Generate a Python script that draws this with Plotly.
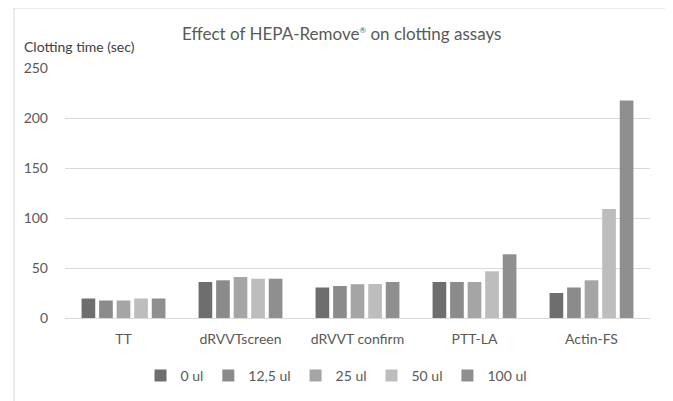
import plotly.graph_objects as go

categories = ["TT", "dRVVTscreen", "dRVVT confirm", "PTT-LA", "Actin-FS"]
series_names = ["0 ul", "12,5 ul", "25 ul", "50 ul", "100 ul"]
v_0 = [19.5, 36, 30.5, 36, 25]
v_12 = [17.5, 37.7, 32, 36, 30.5]
v_25 = [17.5, 41, 33.8, 36, 37.7]
v_50 = [19.5, 39.3, 34, 46.7, 109]
v_100 = [19.5, 39.3, 36, 63.7, 217.5]
values = [v_0, v_12, v_25, v_50, v_100]
colors = ["#6e6e6e", "#8b8b8b", "#a5a5a5", "#bdbdbd", "#8f8f8f"]
tick_vals = [0, 50, 100, 150, 200, 250]

FONT = "Lato"
GREY = "#595959"

fig = go.Figure()
for name, vals, c in zip(series_names, values, colors):
    fig.add_trace(go.Bar(x=categories, y=vals, name=name, marker=dict(color=c, line=dict(width=0))))

# The page body has an 8px margin, so the figure is drawn 8px in from the top-left.
OFF = 8
SW, SH = 673, 401
W, H = SW - OFF, SH - OFF
L, R, T, B = 65 - OFF, 23, 68 - OFF, 83
pw = W - L - R
ph = H - T - B

def px_x(x):  # screen x -> paper
    return (x - OFF - L) / pw

def px_y(y):  # screen y -> paper
    return (H - B - (y - OFF)) / ph

fig.update_layout(
    width=W, height=H,
    margin=dict(l=L, r=R, t=T, b=B, autoexpand=False),
    paper_bgcolor="white", plot_bgcolor="white",
    barmode="group", bargap=0.25, bargroupgap=0.22,
    font=dict(family=FONT, color=GREY, size=13),
    showlegend=True,
    legend=dict(orientation="h", xref="container", yref="container",
                x=(336 - OFF) / W, xanchor="center", y=1 - (376 - OFF) / H, yanchor="middle",
                font=dict(size=14, color=GREY), traceorder="normal", itemwidth=30,
                tracegroupgap=0),
    xaxis=dict(showgrid=False, showline=True, linecolor="#d9d9d9", linewidth=1,
               ticks="", tickfont=dict(size=14, color=GREY), ticklabelstandoff=8),
    yaxis=dict(range=[0, 250], tickvals=tick_vals, showgrid=True, gridcolor="#d9d9d9",
               gridwidth=1, zeroline=False, showline=False, ticks="",
               tickfont=dict(size=14, color=GREY), ticklabelstandoff=16),
    annotations=[
        dict(text="Effect of HEPA-Remove<sup><span style='font-size:8px'>®</span></sup> on clotting assays",
             xref="paper", yref="paper",
             x=px_x(341), y=px_y(33), xanchor="center", yanchor="middle", showarrow=False,
             font=dict(size=17, color=GREY)),
        dict(text="Clotting time (sec)", xref="paper", yref="paper",
             x=px_x(22), y=px_y(47), xanchor="left", yanchor="middle", showarrow=False,
             font=dict(size=14, color="#404040")),
    ],
    shapes=[
        dict(type="rect", xref="paper", yref="paper", x0=px_x(14), x1=px_x(669),
             y0=px_y(420), y1=px_y(8), line=dict(color="#d9d9d9", width=1), layer="below"),
    ],
)

fig.write_html("out.html")
